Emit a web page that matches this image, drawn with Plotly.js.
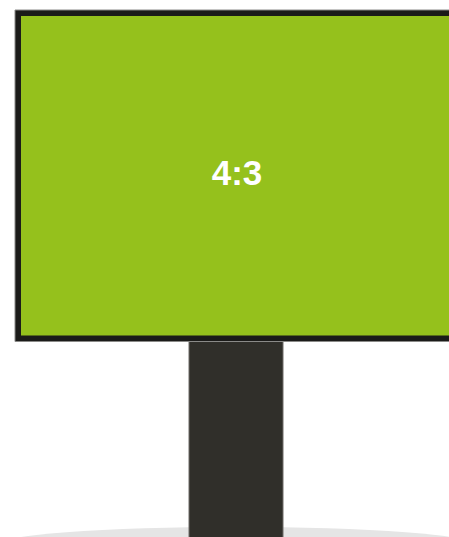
<!DOCTYPE html>
<html>
<head>
<meta charset="utf-8">
<script src="https://cdn.plot.ly/plotly-3.0.1.min.js"></script>
<style>
html,body{margin:0;padding:0;background:#fff;overflow:hidden;}
#chart{width:449px;height:537px;}
</style>
</head>
<body>
<div id="chart"></div>
<script>
// Data
const ratioLabels = ["4:3"];
const ratioWidth = [4];
const ratioHeight = [3];

// Geometry (pixel-space scene, y downward)
const W = 449, H = 537;
const cx = 236;               // centre line of monitor and stand
const unit = 110.5;           // pixels per ratio unit
const monTop = 10;
const bezel = 6;
const monW = ratioWidth[0] * unit;
const monH = ratioHeight[0] * unit;
const monLeft = cx - monW / 2;
const monBottom = monTop + monH;

const shapes = [
  // floor shadow
  {type:'circle', xref:'x', yref:'y', x0:cx-240, x1:cx+240, y0:527, y1:563,
   fillcolor:'#e5e5e5', line:{width:0}, layer:'below'},
  // stand
  {type:'rect', xref:'x', yref:'y', x0:189, x1:283, y0:monBottom-10, y1:H+5,
   fillcolor:'#302f2a', line:{color:'#6e6d68', width:1}, layer:'below'},
  // monitor bezel
  {type:'rect', xref:'x', yref:'y', x0:monLeft, x1:monLeft+monW, y0:monTop, y1:monBottom,
   fillcolor:'#1b1b19', line:{color:'#8a8a88', width:1}, layer:'below'},
  // screen
  {type:'rect', xref:'x', yref:'y', x0:monLeft+bezel, x1:monLeft+monW-bezel, y0:monTop+bezel, y1:monBottom-bezel,
   fillcolor:'#95c11c', line:{width:0}, layer:'below'}
];

const trace = {
  type:'scatter', mode:'text',
  x:[cx + 1], y:[(monTop + monBottom) / 2],
  text: ratioLabels,
  textfont:{family:'Liberation Sans, Arial, sans-serif', size:35, color:'#ffffff', weight:'bold'},
  texttemplate:'<b>%{text}</b>',
  hoverinfo:'skip', showlegend:false, cliponaxis:false
};

const layout = {
  width:W, height:H,
  margin:{l:0,r:0,t:0,b:0},
  paper_bgcolor:'#ffffff', plot_bgcolor:'rgba(0,0,0,0)',
  xaxis:{range:[0,W], visible:false, fixedrange:true},
  yaxis:{range:[H,0], visible:false, fixedrange:true},
  shapes:shapes,
  showlegend:false
};

Plotly.newPlot('chart', [trace], layout, {staticPlot:true, displayModeBar:false});
</script>
</body>
</html>
